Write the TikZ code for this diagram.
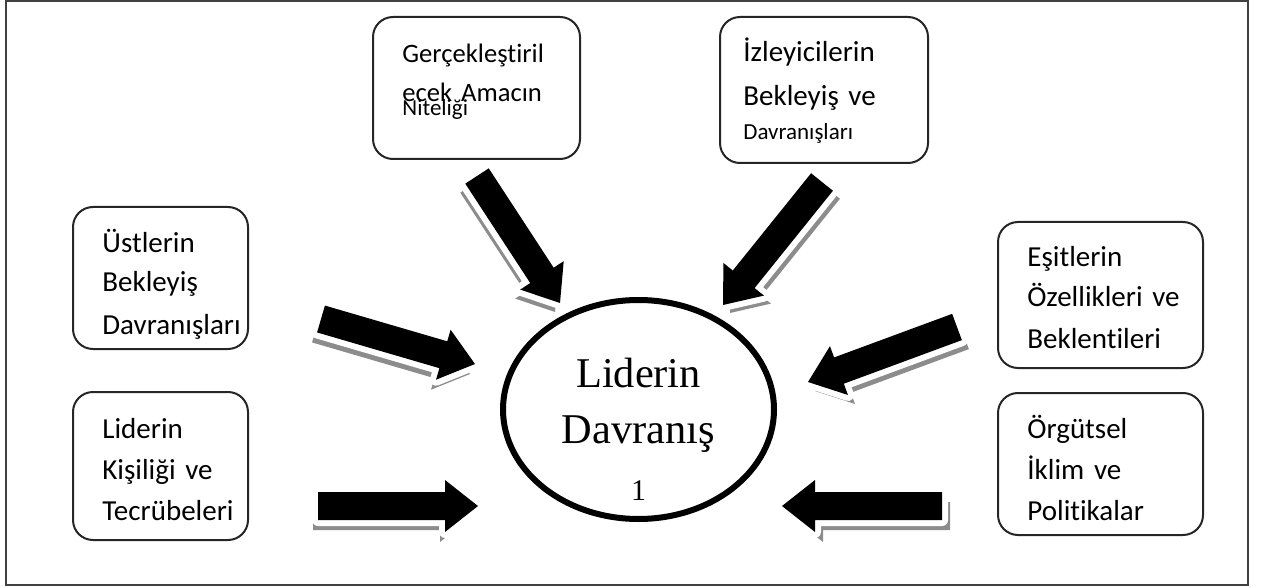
\documentclass[tikz,border=0pt]{standalone}
\usepackage{fontspec}
\setmainfont{Liberation Serif}
\newfontfamily\calibri[Ligatures=NoCommon]{Carlito}
\usetikzlibrary{calc, shapes.geometric}

% block arrow from tail #1 to tip #2
\newcommand{\arrowpath}[2]{($(#1)!7pt!90:(#2)$) -- ($(#2)!16.5pt!(#1)!7pt!-90:(#1)$) -- ($(#2)!16.5pt!(#1)!13pt!-90:(#1)$) -- (#2) -- ($(#2)!16.5pt!(#1)!13pt!90:(#1)$) -- ($(#2)!16.5pt!(#1)!7pt!90:(#1)$) -- ($(#1)!7pt!-90:(#2)$) -- cycle}
\newcommand{\blockarrow}[3]{%
  \begin{scope}[transform canvas={shift={#3}}]
    \fill[shadowgray] \arrowpath{#1}{#2};
  \end{scope}
  \fill[blk] \arrowpath{#1}{#2};}

\begin{document}
\begin{tikzpicture}[
      x=0.5pt, y=-0.5pt,
      factor/.style={draw=black!85, line width=1pt, rounded corners=10pt, inner sep=0pt},
      factortxt/.style={anchor=base west, inner sep=0pt, text width=100pt, align=left,
                        font=\calibri\fontsize{14.5}{20.5}\selectfont},
      blk/.style={fill=black, preaction={draw=white, line width=6pt, line join=round}},
      shadowgray/.style={fill=black!45}
    ]
    \useasboundingbox (0,0) rectangle (1263,588);
    \draw[black!75, line width=1pt] (6,1) rectangle (1248,585);

    % factor boxes
    \node[factor, minimum width=103.5pt, minimum height=71pt] (goal) at (476.5,88) {};
    \node[factor, minimum width=104pt, minimum height=73pt] (audience) at (824,90) {};
    \node[factor, minimum width=87.5pt, minimum height=71pt] (superior) at (160.5,278) {};
    \node[factor, minimum width=87.5pt, minimum height=74pt] (personality) at (160.5,466) {};
    \node[factor, minimum width=102.5pt, minimum height=73pt] (peers) at (1100.5,295) {};
    \node[factor, minimum width=102.5pt, minimum height=71pt] (climate) at (1100.5,464) {};

    \node[factortxt, font=\calibri\fontsize{13.3}{20.5}\selectfont] (goalTxt) at (402,63)
      {Gerçekleştiril\\[-1pt]ecek Amacın\\[-13.5pt]{\fontsize{11.5}{14}\selectfont Niteliği}};
    \node[factortxt] (audienceTxt) at (743,62)
      {İzleyicilerin\\[1.5pt]Bekleyiş ve\\[-3.5pt]{\fontsize{11.5}{14}\selectfont Davranışları}};
    \node[factortxt] (superiorTxt) at (102,253) {Üstlerin\\[-1pt]Bekleyiş\\[0.5pt]Davranışları};
    \node[factortxt] (personalityTxt) at (102,438) {Liderin\\Kişiliği ve\\Tecrübeleri};
    \node[factortxt] (peersTxt) at (1027,266) {Eşitlerin\\Özellikleri ve\\Beklentileri};
    \node[factortxt] (climateTxt) at (1027,438) {Örgütsel\\İklim ve\\Politikalar};

    % centre
    \node[draw, ellipse, line width=3pt, minimum width=135.5pt, minimum height=109.5pt,
          inner sep=0pt] (lider) at (638.5,409.5) {};
    \node[anchor=base, inner sep=0pt, text width=90pt, align=center,
          font=\fontsize{21.2}{28}\selectfont] (liderTxt) at (638.5,387)
      {Liderin\\Davranış\\[0.5pt]{\fontsize{15}{18}\selectfont 1}};

    % arrow ends
    \coordinate (goalT) at (477,176);        \coordinate (goalH) at (560,303);
    \coordinate (audienceT) at (822,182);    \coordinate (audienceH) at (723,305);
    \coordinate (superiorT) at (321,319);    \coordinate (superiorH) at (475,364);
    \coordinate (personalityT) at (318,506); \coordinate (personalityH) at (478,506);
    \coordinate (peersT) at (957,327);       \coordinate (peersH) at (808,382);
    \coordinate (climateT) at (942,506);     \coordinate (climateH) at (782,506);

    \blockarrow{goalT}{goalH}{(-5,9)}
    \blockarrow{audienceT}{audienceH}{(7,8)}
    \blockarrow{superiorT}{superiorH}{(-5,10)}
    \blockarrow{personalityT}{personalityH}{(-5,10)}
    \blockarrow{peersT}{peersH}{(7,9)}
    \blockarrow{climateT}{climateH}{(8,10)}
  \end{tikzpicture}
\end{document}
